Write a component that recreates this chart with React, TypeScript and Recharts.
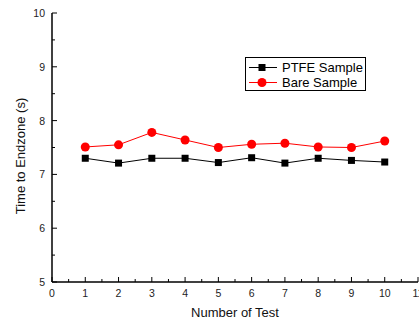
import { LineChart, Line, XAxis, YAxis } from "recharts";

const testNumbers = [1, 2, 3, 4, 5, 6, 7, 8, 9, 10];
const ptfeTimes = [7.3, 7.21, 7.3, 7.3, 7.22, 7.31, 7.21, 7.3, 7.26, 7.23];
const bareTimes = [7.51, 7.55, 7.78, 7.64, 7.5, 7.56, 7.58, 7.51, 7.5, 7.62];

const xTicks = [0, 0.5, 1, 1.5, 2, 2.5, 3, 3.5, 4, 4.5, 5, 5.5, 6, 6.5, 7, 7.5, 8, 8.5, 9, 9.5, 10, 10.5, 11];
const yTicks = [5, 5.5, 6, 6.5, 7, 7.5, 8, 8.5, 9, 9.5, 10];

const series = [
  { key: "ptfe", name: "PTFE Sample", color: "#000000", marker: "square" },
  { key: "bare", name: "Bare Sample", color: "#ff0000", marker: "circle" },
];

const data = testNumbers.map((n, i) => ({ test: n, ptfe: ptfeTimes[i], bare: bareTimes[i] }));

const FONT = "'Liberation Sans', Arial, sans-serif";
const tickLen = (v: number) => (Number.isInteger(v) ? 5 : 3);

function BottomTick({ x, y, payload }: any) {
  const v = payload.value;
  return (
    <g>
      <line x1={x} x2={x} y1={y} y2={y - tickLen(v)} stroke="#000" strokeWidth={1} />
      {Number.isInteger(v) && (
        <text x={x} y={y + 15} textAnchor="middle" fontSize={10.5} fontFamily={FONT} fill="#222">
          {v}
        </text>
      )}
    </g>
  );
}

function TopTick({ x, y, payload }: any) {
  return <line x1={x} x2={x} y1={y} y2={y + tickLen(payload.value)} stroke="#000" strokeWidth={1} />;
}

function LeftTick({ x, y, payload }: any) {
  const v = payload.value;
  return (
    <g>
      <line x1={x} x2={x + tickLen(v)} y1={y} y2={y} stroke="#000" strokeWidth={1} />
      {Number.isInteger(v) && (
        <text x={x - 7} y={y + 4} textAnchor="end" fontSize={10.5} fontFamily={FONT} fill="#222">
          {v}
        </text>
      )}
    </g>
  );
}

function RightTick({ x, y, payload }: any) {
  return <line x1={x} x2={x - tickLen(payload.value)} y1={y} y2={y} stroke="#000" strokeWidth={1} />;
}

function SquareDot({ cx, cy }: any) {
  return <rect x={cx - 3.5} y={cy - 3.5} width={7} height={7} fill="#000" />;
}

function CircleDot({ cx, cy }: any) {
  return <circle cx={cx} cy={cy} r={4.5} fill="#ff0000" />;
}

function LegendBox() {
  return (
    <div
      style={{
        position: "absolute",
        left: 245,
        top: 57,
        width: 119,
        height: 32,
        border: "1px solid #000",
        background: "#fff",
        fontFamily: FONT,
        fontSize: 13,
      }}
    >
      {series.map((s, i) => (
        <div key={s.key} style={{ position: "absolute", left: 0, top: 2 + i * 15, height: 15, display: "flex", alignItems: "center" }}>
          <svg width={35} height={15}>
            <line x1={3} x2={31} y1={7.5} y2={7.5} stroke={s.color} strokeWidth={1} />
            {s.marker === "square" ? (
              <rect x={12.5} y={4} width={7} height={7} fill={s.color} />
            ) : (
              <circle cx={16} cy={7.5} r={4.5} fill={s.color} />
            )}
          </svg>
          <span style={{ marginLeft: 1, color: "#000", whiteSpace: "nowrap" }}>{s.name}</span>
        </div>
      ))}
    </div>
  );
}

export default function App() {
  return (
    <div style={{ position: "fixed", left: 0, top: 0, width: 419, height: 320, background: "#fff" }}>
      <LineChart width={419} height={320} data={data} margin={{ top: 13, right: 1, bottom: 0, left: 0 }}>
        <XAxis
          xAxisId="bottom"
          dataKey="test"
          type="number"
          domain={[0, 11]}
          ticks={xTicks}
          interval={0}
          height={38}
          tickSize={0}
          tickMargin={0}
          tick={<BottomTick />}
          axisLine={{ stroke: "#000", strokeWidth: 1.5 }}
          tickLine={false}
          label={{
            content: () => (
              <text x={235} y={317} textAnchor="middle" fontSize={13} fontFamily={FONT} fill="#111">
                Number of Test
              </text>
            ),
          }}
        />
        <XAxis
          xAxisId="top"
          orientation="top"
          dataKey="test"
          type="number"
          domain={[0, 11]}
          ticks={xTicks}
          interval={0}
          height={0}
          tickSize={0}
          tickMargin={0}
          tick={<TopTick />}
          axisLine={{ stroke: "#000", strokeWidth: 1.5 }}
          tickLine={false}
        />
        <YAxis
          yAxisId="left"
          type="number"
          domain={[5, 10]}
          ticks={yTicks}
          interval={0}
          width={52}
          tickSize={0}
          tickMargin={0}
          tick={<LeftTick />}
          axisLine={{ stroke: "#000", strokeWidth: 1.5 }}
          tickLine={false}
          label={{
            content: () => (
              <text
                x={25}
                y={156}
                transform="rotate(-90 25 156)"
                textAnchor="middle"
                fontSize={13}
                fontFamily={FONT}
                fill="#111"
              >
                Time to Endzone (s)
              </text>
            ),
          }}
        />
        <YAxis
          yAxisId="right"
          orientation="right"
          type="number"
          domain={[5, 10]}
          ticks={yTicks}
          interval={0}
          width={0}
          tickSize={0}
          tickMargin={0}
          tick={<RightTick />}
          axisLine={{ stroke: "#000", strokeWidth: 1.5 }}
          tickLine={false}
        />
        <Line
          xAxisId="bottom"
          yAxisId="left"
          dataKey="ptfe"
          name="PTFE Sample"
          stroke="#000"
          strokeWidth={1}
          dot={<SquareDot />}
          activeDot={false}
          isAnimationActive={false}
        />
        <Line
          xAxisId="bottom"
          yAxisId="left"
          dataKey="bare"
          name="Bare Sample"
          stroke="#ff0000"
          strokeWidth={1}
          dot={<CircleDot />}
          activeDot={false}
          isAnimationActive={false}
        />
      </LineChart>
      <LegendBox />
    </div>
  );
}
